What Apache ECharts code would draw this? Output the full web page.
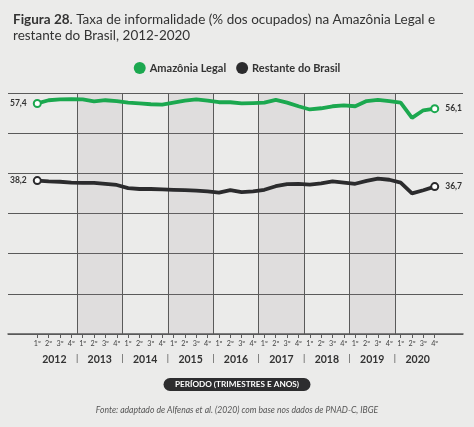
<!DOCTYPE html>
<html>
<head>
<meta charset="utf-8">
<script src="https://cdn.jsdelivr.net/npm/echarts@6/dist/echarts.min.js"></script>
<style>
html,body{margin:0;padding:0;background:#ebebea;}
#c{width:474px;height:427px;}
</style>
</head>
<body>
<div id="c"></div>
<script>
const quarters = ['1º','2º','3º','4º'];
const years = ['2012','2013','2014','2015','2016','2017','2018','2019','2020'];
const amazonia = [57.4,58.2,58.4,58.5, 58.4,57.9,58.2,58.0, 57.6,57.4,57.2,57.1,
                  57.6,58.1,58.4,58.1, 57.7,57.7,57.4,57.5, 57.6,58.3,57.6,56.7,
                  55.9,56.2,56.7,56.9, 56.7,58.0,58.3,58.0, 57.6,53.8,55.7,56.1];
const restante = [38.2,38.0,37.9,37.7, 37.6,37.6,37.4,37.1, 36.3,36.1,36.1,36.0,
                  35.9,35.8,35.7,35.5, 35.2,35.8,35.3,35.5, 35.9,36.8,37.3,37.4,
                  37.2,37.5,38.0,37.7, 37.4,38.1,38.7,38.4, 37.7,35.0,35.8,36.7];
const shadedYears = [1,3,5,7];
const yearBoundaries = [1,2,3,4,5,6,7,8];

const cats = [];
years.forEach(y => quarters.forEach(q => cats.push(y + '-' + q)));

function fmt(v){ return v.toFixed(1).replace('.', ','); }
function buildData(arr){
  return arr.map((v,i) => {
    if (i === 0) return {value: v, label: {show: true, position: 'left', distance: 6}};
    if (i === arr.length-1) return {value: v, label: {show: true, position: 'right', distance: 6}};
    return {value: v};
  });
}

const chart = echarts.init(document.getElementById('c'), null, {renderer: 'canvas'});
const GREEN = '#1ba84f', DARK = '#2b2b2d', GRID = '#5a5a5a';
const lastIdx = amazonia.length - 1;
const sym = (v, p) => (p.dataIndex === 0 || p.dataIndex === lastIdx) ? 'emptyCircle' : 'none';
const endLabel = {fontFamily: 'Lato', fontWeight: 'bold', fontSize: 8.5, color: '#333', formatter: p => fmt(p.value)};

chart.setOption({
  backgroundColor: '#ebebea',
  animation: false,
  title: {
    left: 8, top: 7,
    text: '{b|Figura 28}. Taxa de informalidade (% dos ocupados) na Amazônia Legal e\nrestante do Brasil, 2012-2020',
    textStyle: {
      fontFamily: 'Lato', fontWeight: 'normal', fontSize: 13.5, color: '#333', lineHeight: 16,
      rich: {b: {fontFamily: 'Lato', fontWeight: 'bold', fontSize: 13.5, color: '#333'}}
    }
  },
  legend: {
    left: 'center', top: 57, icon: 'circle', itemWidth: 12, itemHeight: 12, itemGap: 10,
    textStyle: {fontFamily: 'Lato', fontWeight: 'bold', fontSize: 11, color: '#333', padding: [0,0,0,-1]},
    data: [{name: 'Amazônia Legal', itemStyle: {color: GREEN}}, {name: 'Restante do Brasil', itemStyle: {color: DARK}}]
  },
  graphic: [
    {type: 'group', left: 'center', top: 378, children: [
      {type: 'rect', shape: {x: 0, y: 0, width: 147, height: 13, r: 6.5}, style: {fill: '#2d2d2f'}},
      {type: 'text', x: 73.5, y: 6.5, style: {text: 'PERÍODO (TRIMESTRES E ANOS)', fill: '#fff', font: 'bold 8.2px Lato', align: 'center', verticalAlign: 'middle'}}
    ]},
    {type: 'text', left: 'center', top: 406, style: {text: 'Fonte: adaptado de Alfenas et al. (2020) com base nos dados de PNAD-C, IBGE', fill: '#555', font: 'italic 8.6px Lato'}}
  ],
  grid: [
    {left: 8, right: 11, top: 93, bottom: 93},
    {left: 31.6, right: 33.6, top: 93, bottom: 93}
  ],
  xAxis: [
    {gridIndex: 0, type: 'value', min: 0, max: 1, axisLine: {show: true, lineStyle: {color: GRID, width: 1.5}},
     axisTick: {show: false}, axisLabel: {show: false}, splitLine: {show: false}},
    {gridIndex: 1, type: 'category', data: cats, boundaryGap: true,
     axisLine: {show: false}, axisTick: {show: true, alignWithLabel: true, length: 4, lineStyle: {color: GRID}},
     axisLabel: {interval: 0, margin: 6, fontFamily: 'Lato', fontSize: 7.2, color: '#444', formatter: v => v.split('-')[1]},
     splitLine: {show: false}},
    {gridIndex: 1, type: 'category', data: years, boundaryGap: true, position: 'bottom', offset: 17,
     axisLine: {show: false}, axisTick: {show: false},
     axisLabel: {interval: 0, margin: 3, fontFamily: 'Lato', fontWeight: 'bold', fontSize: 10.5, color: '#333'}},
    {gridIndex: 1, type: 'value', min: 0, max: 9, interval: 1, position: 'bottom', offset: 17,
     axisLine: {show: false}, axisTick: {show: false}, splitLine: {show: false},
     axisLabel: {margin: 3, fontFamily: 'Lato', fontSize: 9, color: '#444', showMinLabel: false, showMaxLabel: false,
       formatter: v => (v > 0 && v < 9) ? '|' : ''}}
  ],
  yAxis: [
    {gridIndex: 0, type: 'value', min: 0, max: 60, interval: 10,
     axisLine: {show: false}, axisTick: {show: false}, axisLabel: {show: false},
     splitLine: {show: true, lineStyle: {color: GRID, width: 1}}},
    {gridIndex: 1, type: 'value', min: 0, max: 60, interval: 10, show: false, splitLine: {show: false}}
  ],
  series: [
    {type: 'line', xAxisIndex: 3, yAxisIndex: 1, data: [], silent: true, z: 1,
     markArea: {silent: true, itemStyle: {color: 'rgba(150,135,140,0.13)'},
       data: shadedYears.map(y => [{xAxis: y}, {xAxis: y + 1}])},
     markLine: {silent: true, symbol: ['none','none'], label: {show: false},
       lineStyle: {color: GRID, width: 1, type: 'solid'},
       data: yearBoundaries.map(b => ({xAxis: b}))}},
    {name: 'Amazônia Legal', type: 'line', xAxisIndex: 1, yAxisIndex: 1, z: 5,
     data: buildData(amazonia), symbol: sym, symbolSize: 7, showSymbol: true,
     lineStyle: {color: GREEN, width: 3.8}, itemStyle: {color: GREEN, borderWidth: 1.2},
     label: endLabel},
    {name: 'Restante do Brasil', type: 'line', xAxisIndex: 1, yAxisIndex: 1, z: 5,
     data: buildData(restante), symbol: sym, symbolSize: 7, showSymbol: true,
     lineStyle: {color: DARK, width: 3.8}, itemStyle: {color: DARK, borderWidth: 1.2},
     label: endLabel}
  ]
});
</script>
</body>
</html>
